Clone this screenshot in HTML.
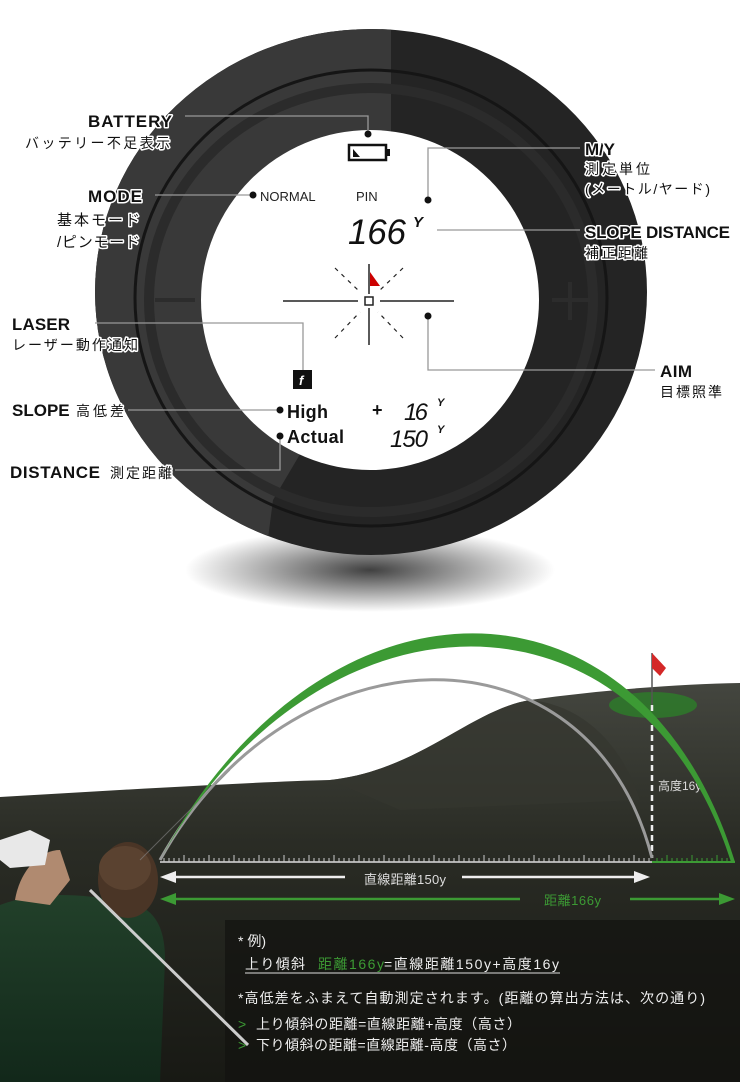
<!DOCTYPE html>
<html><head><meta charset="utf-8"><style>
html,body{margin:0;padding:0;background:#fff;}
svg{display:block;}
text{font-family:"Liberation Sans","Noto Sans CJK JP",sans-serif;}
.h{stroke:#fff;stroke-width:3;paint-order:stroke;stroke-linejoin:round;}
</style></head><body>
<svg width="740" height="1082" viewBox="0 0 740 1082" xmlns="http://www.w3.org/2000/svg">
<defs>
<radialGradient id="sh" cx="50%" cy="50%" r="50%"><stop offset="0" stop-color="#000" stop-opacity="0.75"/><stop offset="1" stop-color="#000" stop-opacity="0"/></radialGradient>
<linearGradient id="ground" x1="0" y1="0" x2="0" y2="1"><stop offset="0" stop-color="#44463f"/><stop offset="0.4" stop-color="#2a2c25"/><stop offset="1" stop-color="#181914"/></linearGradient>
<linearGradient id="shirt" x1="0" y1="0" x2="0" y2="1"><stop offset="0" stop-color="#22402a"/><stop offset="1" stop-color="#12281a"/></linearGradient>
<clipPath id="leftPart"><polygon points="0,0 391,0 391,300 273,500 260,600 0,600"/></clipPath>
</defs>
<!-- shadow -->
<ellipse cx="370" cy="570" rx="185" ry="42" fill="url(#sh)"/>
<!-- ring -->
<ellipse cx="371" cy="292" rx="276" ry="263" fill="#242424"/>
<ellipse cx="371" cy="292" rx="276" ry="263" fill="#393939" clip-path="url(#leftPart)"/>
<ellipse cx="371" cy="298" rx="236" ry="228" fill="none" stroke="#151515" stroke-width="3"/>
<ellipse cx="371" cy="300" rx="222" ry="212" fill="none" stroke="#2b2b2b" stroke-width="10"/>
<ellipse cx="370" cy="300" rx="169" ry="170" fill="#fff"/>
<!-- +/- embossed -->
<g stroke="#2c2c2c" stroke-width="4" fill="none"><line x1="155" y1="300" x2="195" y2="300"/><line x1="552" y1="300" x2="590" y2="300"/><line x1="570" y1="282" x2="570" y2="320"/></g>

<!-- connectors -->
<g stroke="#999" stroke-width="1.3" fill="none">
<polyline points="185,116 368,116 368,134"/>
<polyline points="580,148 428,148 428,200"/>
<line x1="155" y1="195" x2="253" y2="195"/>
<line x1="437" y1="230" x2="580" y2="230"/>
<polyline points="428,316 428,370 655,370"/>
<polyline points="95,323 303,323 303,370"/>
<line x1="128" y1="410" x2="278" y2="410"/>
<polyline points="175,470 280,470 280,438"/>
</g>
<g fill="#111">
<circle cx="368" cy="134" r="3.5"/><circle cx="428" cy="200" r="3.5"/><circle cx="253" cy="195" r="3.5"/>
<circle cx="428" cy="316" r="3.5"/><circle cx="280" cy="410" r="3.5"/><circle cx="280" cy="436" r="3.5"/>
</g>
<!-- battery -->
<rect x="349" y="145" width="37" height="15" fill="none" stroke="#111" stroke-width="2.5"/>
<rect x="386" y="149" width="4" height="7" fill="#111"/>
<polygon points="353,157 353,149 360,157" fill="#111"/>
<!-- display text -->
<text x="260" y="201" font-size="13" fill="#222">NORMAL</text>
<text x="356" y="201" font-size="13" fill="#222">PIN</text>
<text x="348" y="244" font-size="35" font-style="italic" fill="#111" textLength="58">166</text>
<text x="413" y="227" font-size="15" font-weight="bold" font-style="italic" fill="#111">Y</text>
<!-- reticle -->
<g stroke="#222" stroke-width="1.5">
<line x1="283" y1="301" x2="358" y2="301"/><line x1="380" y1="301" x2="454" y2="301"/>
<line x1="369" y1="264" x2="369" y2="294"/><line x1="369" y1="308" x2="369" y2="345"/>
</g>
<rect x="365" y="297" width="8" height="8" fill="none" stroke="#222" stroke-width="1.5"/>
<g stroke="#222" stroke-width="1.2" stroke-dasharray="4,5">
<line x1="335" y1="268" x2="360" y2="292"/><line x1="403" y1="268" x2="378" y2="292"/>
<line x1="335" y1="338" x2="360" y2="312"/><line x1="403" y1="338" x2="378" y2="312"/>
</g>
<polygon points="370,272 370,286 380,286" fill="#c00"/>
<!-- laser icon -->
<rect x="293" y="370" width="19" height="19" fill="#111"/>
<text x="299" y="385" font-size="13" font-style="italic" font-weight="bold" fill="#fff" font-family="Liberation Serif,serif">f</text>
<text x="287" y="418" font-size="18" font-weight="bold" fill="#111" textLength="41">High</text>
<text x="287" y="443" font-size="18" font-weight="bold" fill="#111" textLength="57">Actual</text>
<text x="372" y="416" font-size="18" font-weight="bold" fill="#111">+</text>
<text x="404" y="420" font-size="24" font-style="italic" fill="#111" textLength="24">16</text>
<text x="437" y="406" font-size="11" font-weight="bold" font-style="italic" fill="#111">Y</text>
<text x="390" y="447" font-size="24" font-style="italic" fill="#111" textLength="38">150</text>
<text x="437" y="433" font-size="11" font-weight="bold" font-style="italic" fill="#111">Y</text>

<!-- labels -->
<g fill="#111">
<text class="h" x="88" y="127" font-size="17" font-weight="bold" textLength="84">BATTERY</text>
<text class="h" x="25" y="148" font-size="14" textLength="145">バッテリー不足表示</text>
<text class="h" x="88" y="202" font-size="17" font-weight="bold" textLength="54">MODE</text>
<text class="h" x="57" y="225" font-size="15" textLength="83">基本モード</text>
<text class="h" x="57" y="247" font-size="15" textLength="83">/ピンモード</text>
<text class="h" x="12" y="330" font-size="17" font-weight="bold" textLength="58">LASER</text>
<text class="h" x="12" y="350" font-size="14" textLength="126">レーザー動作通知</text>
<text class="h" x="12" y="416" font-size="17" font-weight="bold">SLOPE</text>
<text class="h" x="76" y="416" font-size="14" textLength="48">高低差</text>
<text class="h" x="10" y="478" font-size="17" font-weight="bold" textLength="90">DISTANCE</text>
<text class="h" x="110" y="478" font-size="14" textLength="62">測定距離</text>
<text class="h" x="585" y="155" font-size="17" font-weight="bold" textLength="30">M/Y</text>
<text class="h" x="585" y="174" font-size="14" textLength="65">測定単位</text>
<text class="h" x="585" y="194" font-size="14" textLength="125">(メートル/ヤード)</text>
<text class="h" x="585" y="238" font-size="17" font-weight="bold" textLength="145">SLOPE DISTANCE</text>
<text class="h" x="585" y="258" font-size="14" textLength="63">補正距離</text>
<text class="h" x="660" y="377" font-size="17" font-weight="bold" textLength="32">AIM</text>
<text class="h" x="660" y="397" font-size="14" textLength="62">目標照準</text>
</g>

<!-- ground -->
<path d="M0,797 C120,790 250,782 330,780 C420,770 470,710 530,700 C600,690 680,684 740,683 L740,1082 L0,1082 Z" fill="url(#ground)"/>
<path d="M330,780 C420,770 470,710 530,700 C580,705 620,740 640,800 L400,810 Z" fill="#34362f" opacity="0.7"/>
<rect x="225" y="920" width="515" height="162" fill="#121310" opacity="0.7"/>
<!-- green ellipse, flag -->
<ellipse cx="653" cy="705" rx="44" ry="13" fill="#2e7a2a" opacity="0.85"/>
<line x1="652" y1="653" x2="652" y2="705" stroke="#555" stroke-width="1.5"/>
<polygon points="652,653 666,668 660,676 652,668" fill="#d42828"/>
<line x1="652" y1="705" x2="652" y2="858" stroke="#eee" stroke-width="2.5" stroke-dasharray="6,4"/>
<text x="658" y="790" font-size="12" fill="#ddd">高度16y</text>
<!-- arcs -->
<path d="M160,860 C290,625 590,615 652,858" fill="none" stroke="#9a9a9a" stroke-width="3"/>
<path d="M160,860 C320,560 640,555 735,862 L731,862 C640,575 320,575 160,860 Z" fill="#3c9a34"/>
<!-- ruler -->
<line x1="160" y1="862" x2="652" y2="862" stroke="#ddd" stroke-width="1.5"/>
<line x1="652" y1="862" x2="735" y2="862" stroke="#3c9a34" stroke-width="2"/>
<g stroke="#ccc" stroke-width="1">
<path d="M164,862v-4M169,862v-4M174,862v-4M179,862v-4M184,862v-7M189,862v-4M194,862v-4M199,862v-4M204,862v-4M209,862v-7M214,862v-4M219,862v-4M224,862v-4M229,862v-4M234,862v-7M239,862v-4M244,862v-4M249,862v-4M254,862v-4M259,862v-7M264,862v-4M269,862v-4M274,862v-4M279,862v-4M284,862v-7M289,862v-4M294,862v-4M299,862v-4M304,862v-4M309,862v-7M314,862v-4M319,862v-4M324,862v-4M329,862v-4M334,862v-7M339,862v-4M344,862v-4M349,862v-4M354,862v-4M359,862v-7M364,862v-4M369,862v-4M374,862v-4M379,862v-4M384,862v-7M389,862v-4M394,862v-4M399,862v-4M404,862v-4M409,862v-7M414,862v-4M419,862v-4M424,862v-4M429,862v-4M434,862v-7M439,862v-4M444,862v-4M449,862v-4M454,862v-4M459,862v-7M464,862v-4M469,862v-4M474,862v-4M479,862v-4M484,862v-7M489,862v-4M494,862v-4M499,862v-4M504,862v-4M509,862v-7M514,862v-4M519,862v-4M524,862v-4M529,862v-4M534,862v-7M539,862v-4M544,862v-4M549,862v-4M554,862v-4M559,862v-7M564,862v-4M569,862v-4M574,862v-4M579,862v-4M584,862v-7M589,862v-4M594,862v-4M599,862v-4M604,862v-4M609,862v-7M614,862v-4M619,862v-4M624,862v-4M629,862v-4M634,862v-7M639,862v-4M644,862v-4M649,862v-4"/>
</g>
<g stroke="#3c9a34" stroke-width="1"><path d="M657,862v-4M662,862v-4M667,862v-7M672,862v-4M677,862v-4M682,862v-4M687,862v-4M692,862v-7M697,862v-4M702,862v-4M707,862v-4M712,862v-4M717,862v-7M722,862v-4M727,862v-4"/></g>
<!-- arrows -->
<g stroke="#eee" stroke-width="2.5"><line x1="172" y1="877" x2="345" y2="877"/><line x1="462" y1="877" x2="640" y2="877"/></g>
<polygon points="160,877 176,871 176,883" fill="#eee"/><polygon points="650,877 634,871 634,883" fill="#eee"/>
<text x="364" y="884" font-size="13" fill="#ddd" textLength="82">直線距離150y</text>
<g stroke="#3c9a34" stroke-width="2.5"><line x1="172" y1="899" x2="520" y2="899"/><line x1="630" y1="899" x2="724" y2="899"/></g>
<polygon points="160,899 176,893 176,905" fill="#3c9a34"/><polygon points="735,899 719,893 719,905" fill="#3c9a34"/>
<text x="544" y="905" font-size="13" fill="#3c9a34" textLength="57">距離166y</text>
<!-- golfer -->
<path d="M0,905 C40,890 80,895 120,900 C150,905 165,920 165,960 L160,1082 L0,1082 Z" fill="url(#shirt)"/>
<path d="M15,900 C20,870 40,850 60,850 L70,880 L50,905 Z" fill="#b08a70"/>
<ellipse cx="128" cy="880" rx="30" ry="38" fill="#4a3526"/>
<ellipse cx="125" cy="868" rx="26" ry="22" fill="#5a4230"/>
<path d="M0,840 L30,830 L50,840 L45,865 L10,868 L0,860 Z" fill="#e8e8e8"/>
<line x1="90" y1="890" x2="248" y2="1045" stroke="#ccc" stroke-width="3"/>
<line x1="140" y1="860" x2="230" y2="770" stroke="#888" stroke-width="1" opacity="0.6"/>
<!-- text box -->
<g font-size="14" fill="#eee">
<text x="238" y="946">* 例)</text>
<text x="245" y="969" textLength="60">上り傾斜</text>
<text x="318" y="969" fill="#3c9a34" textLength="66">距離166y</text>
<text x="384" y="969" textLength="175">=直線距離150y+高度16y</text>
<line x1="245" y1="973" x2="560" y2="973" stroke="#ddd" stroke-width="1"/>
<text x="238" y="1003" textLength="467">*高低差をふまえて自動測定されます。(距離の算出方法は、次の通り)</text>
<text x="238" y="1029" fill="#3c9a34">&gt;</text>
<text x="256" y="1029" textLength="265">上り傾斜の距離=直線距離+高度（高さ）</text>
<text x="238" y="1050" fill="#3c9a34">&gt;</text>
<text x="256" y="1050" textLength="260">下り傾斜の距離=直線距離-高度（高さ）</text>
</g>
</svg>
</body></html>
